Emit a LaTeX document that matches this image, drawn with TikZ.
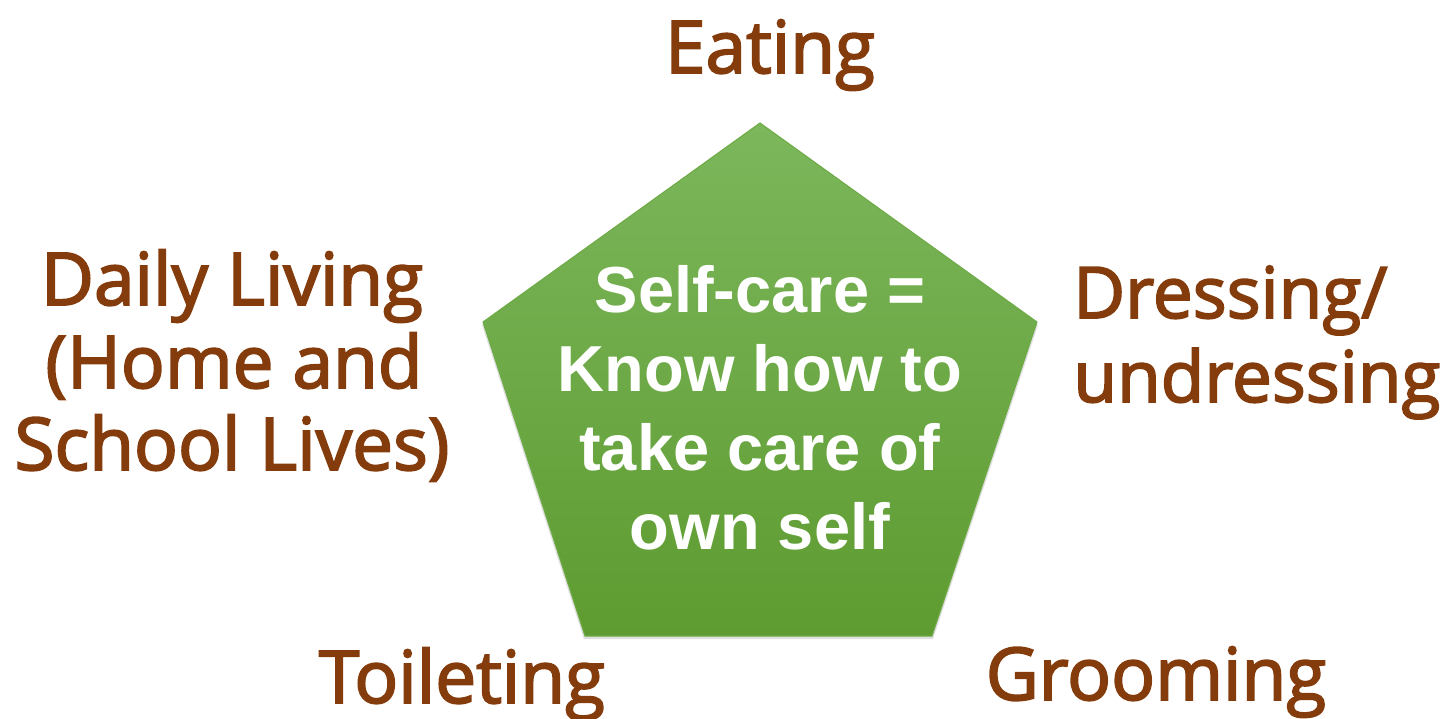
\documentclass[tikz,border=0pt]{standalone}
\usepackage{fontspec}
\newfontfamily\lblfont{Open Sans}[FakeBold=2.5]
\newfontfamily\arialb{Liberation Sans}
\usetikzlibrary{calc}
\definecolor{brownlbl}{RGB}{132,60,12}
\definecolor{gtop}{RGB}{124,183,92}
\definecolor{gbot}{RGB}{94,155,48}
\definecolor{gedge}{RGB}{110,170,70}
\tikzset{
  lbl/.style={text=brownlbl,font=\lblfont\fontsize{41.5}{47.5}\selectfont,inner sep=0pt,anchor=base},
  lblr/.style={lbl,font=\lblfont\fontsize{40.5}{47.5}\selectfont,anchor=base west},
  ctr/.style={text=white,font=\arialb\bfseries\fontsize{37}{45}\selectfont,align=center,inner sep=0pt,anchor=base},
}
\begin{document}
\begin{tikzpicture}[x=0.02cm,y=-0.02cm]
\useasboundingbox (0,0) rectangle (1448,719);
% pentagon
\coordinate (pt) at (760,123);
\coordinate (pr) at (1037,322);
\coordinate (pbr) at (932,636);
\coordinate (pbl) at (585,636);
\coordinate (pl) at (483,322);
\fill[black!25,opacity=0.5] ($(pt)+(0,3)$) -- ($(pr)+(1,3)$) -- ($(pbr)+(1,3)$) -- ($(pbl)+(-1,3)$) -- ($(pl)+(-1,3)$) -- cycle;
\shade[top color=gtop,bottom color=gbot,draw=gedge,line width=0.6pt]
  (pt) -- (pr) -- (pbr) -- (pbl) -- (pl) -- cycle;
% center text
\node[ctr] (c1) at (760,313) {Self-care =};
\node[ctr] (c2) at (760,392) {Know how to};
\node[ctr] (c3) at (760,471) {take care of};
\node[ctr] (c4) at (760,550) {own self};
% labels
\node[lbl] (eat) at (770,73) {Eating};
\node[lbl] (d1) at (232,305) {Daily Living};
\node[lbl] (d2) at (234,388) {(Home and};
\node[lbl] (d3) at (232,470) {School Lives)};
\node[lblr] (dr1) at (1073,318) {Dressing/};
\node[lblr] (dr2) at (1073,402) {undressing};
\node[lbl] (toil) at (462,703) {Toileting};
\node[lbl] (groom) at (1156,700) {Grooming};
\end{tikzpicture}
\end{document}
